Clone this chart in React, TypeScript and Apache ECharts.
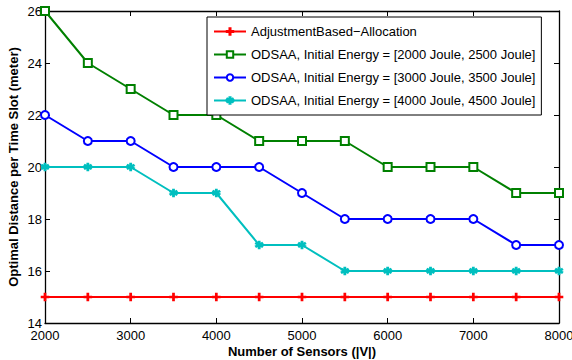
import React, { useEffect, useRef } from "react";
import * as echarts from "echarts";

const sensors = [2000, 2500, 3000, 3500, 4000, 4500, 5000, 5500, 6000, 6500, 7000, 7500, 8000];
const adjustment = [15, 15, 15, 15, 15, 15, 15, 15, 15, 15, 15, 15, 15];
const odsaa2000 = [26, 24, 23, 22, 22, 21, 21, 21, 20, 20, 20, 19, 19];
const odsaa3000 = [22, 21, 21, 20, 20, 20, 19, 18, 18, 18, 18, 17, 17];
const odsaa4000 = [20, 20, 20, 19, 19, 17, 17, 16, 16, 16, 16, 16, 16];
const seriesNames = [
  "AdjustmentBased\u2212Allocation",
  "ODSAA, Initial Energy = [2000 Joule, 2500 Joule]",
  "ODSAA, Initial Energy = [3000 Joule, 3500 Joule]",
  "ODSAA, Initial Energy = [4000 Joule, 4500 Joule]",
];
const xTicks = [2000, 3000, 4000, 5000, 6000, 7000, 8000];
const yTicks = [14, 16, 18, 20, 22, 24, 26];

const FONT = "'Liberation Sans', Arial, Helvetica, sans-serif";
const PLUS = "path://M3.35,0H4.65V3.35H8V4.65H4.65V8H3.35V4.65H0V3.35H3.35Z";
const STAR = "path://M3.4,0H4.6V2.8L6.9,1.5L7.5,2.5L5.2,3.9L7.5,5.2L6.9,6.2L4.6,4.9V8H3.4V4.9L1.1,6.2L0.5,5.2L2.8,3.9L0.5,2.5L1.1,1.5L3.4,2.8Z";

const pairs = (ys: number[]) => sensors.map((x, i) => [x, ys[i]]);

export default function App() {
  const ref = useRef<HTMLDivElement>(null);
  useEffect(() => {
    if (!ref.current) return;
    const chart = echarts.init(ref.current, undefined, { renderer: "svg" });
    const axisCommon = {
      axisLine: { show: true, onZero: false, lineStyle: { color: "#000", width: 1.3 } },
      axisTick: { show: true, inside: true, length: 5, lineStyle: { color: "#000" } },
      splitLine: { show: false },
    };
    const mk = (name: string, data: number[], color: string, symbol: string, size: number) => ({
      name,
      type: "line",
      data: pairs(data),
      symbol,
      symbolSize: size,
      showSymbol: true,
      lineStyle: { color, width: 2 },
      itemStyle: { color, borderColor: color, borderWidth: 1.6 },
      emphasis: { disabled: true },
      z: 2,
    });
    chart.setOption({
      animation: false,
      backgroundColor: "#fff",
      textStyle: { fontFamily: FONT },
      grid: { left: 45, right: 13, top: 11, bottom: 37, containLabel: false, outerBoundsMode: "none" },
      legend: {
        orient: "vertical",
        left: 207,
        top: 17,
        padding: [8, 6, 8, 6],
        itemWidth: 32,
        itemHeight: 8,
        itemGap: 10,
        borderColor: "#000",
        borderWidth: 1,
        backgroundColor: "#fff",
        textStyle: { fontSize: 13, color: "#000", fontFamily: FONT },
        data: seriesNames,
        selectedMode: false,
      },
      xAxis: [
        {
          type: "value",
          min: sensors[0],
          max: sensors[sensors.length - 1],
          interval: xTicks[1] - xTicks[0],
          name: "Number of Sensors (|V|)",
          nameLocation: "middle",
          nameGap: 22,
          nameMoveOverlap: false,
          nameTextStyle: { fontSize: 13, fontWeight: "bold", color: "#000", fontFamily: FONT },
          axisLabel: { fontSize: 13, color: "#000", margin: 6, fontFamily: FONT, formatter: (v: number) => String(v) },
          ...axisCommon,
        },
        {
          type: "value",
          position: "top",
          min: sensors[0],
          max: sensors[sensors.length - 1],
          interval: xTicks[1] - xTicks[0],
          axisLabel: { show: false },
          ...axisCommon,
        },
      ],
      yAxis: [
        {
          type: "value",
          min: yTicks[0],
          max: yTicks[yTicks.length - 1],
          interval: yTicks[1] - yTicks[0],
          name: "Optimal Distance per Time Slot (meter)",
          nameLocation: "middle",
          nameGap: 25,
          nameMoveOverlap: false,
          nameTextStyle: { fontSize: 13, fontWeight: "bold", color: "#000", fontFamily: FONT },
          axisLabel: { fontSize: 13, color: "#000", margin: 3, fontFamily: FONT },
          ...axisCommon,
        },
        {
          type: "value",
          position: "right",
          min: yTicks[0],
          max: yTicks[yTicks.length - 1],
          interval: yTicks[1] - yTicks[0],
          axisLabel: { show: false },
          ...axisCommon,
        },
      ],
      series: [
        mk(seriesNames[0], adjustment, "#ff0000", PLUS, 7),
        mk(seriesNames[1], odsaa2000, "#008000", "emptyRect", 8),
        mk(seriesNames[2], odsaa3000, "#0000ff", "emptyCircle", 8),
        mk(seriesNames[3], odsaa4000, "#00bfbf", STAR, 7),
      ],
    });
    return () => chart.dispose();
  }, []);
  return (
    <div
      ref={ref}
      style={{ position: "absolute", left: 0, top: 0, width: 572, height: 360 }}
    />
  );
}
